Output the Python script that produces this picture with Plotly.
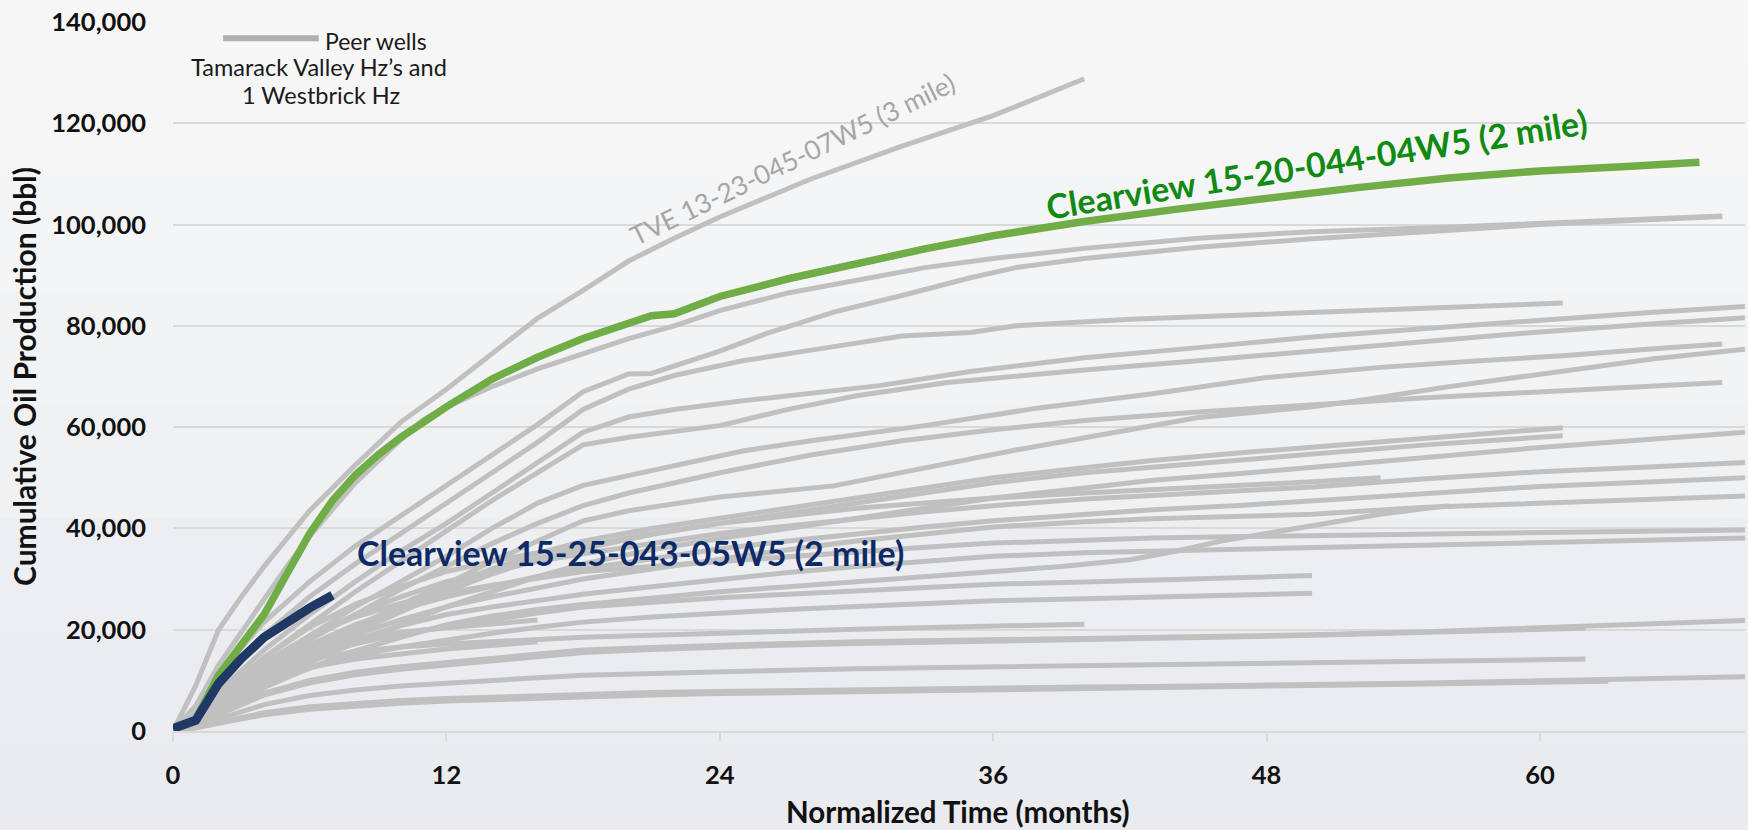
import plotly.graph_objects as go

# ---------------- data ----------------
tve_months = [0, 1, 2, 3, 4, 5, 6, 7, 8, 10, 12, 14, 16, 18, 20, 22, 24, 28, 32, 36, 40]
tve_values = [0, 9000, 20000, 26500, 32500, 38000, 43500, 48000, 52500, 61000, 67500, 74500,
              81500, 87000, 92800, 97300, 101500, 109000, 115500, 121500, 128800]

green_months = [0, 1, 2, 3, 4, 5, 6, 7, 8, 9, 10, 11, 12, 14, 16, 18, 20, 21, 22, 24, 27, 30,
                33, 36, 40, 44, 48, 52, 56, 60, 64, 67]
green_values = [500, 2300, 11000, 17000, 23000, 31000, 39000, 45500, 50500, 54500, 58000, 61000,
                64000, 69500, 73800, 77500, 80500, 82000, 82400, 85800, 89300, 92400, 95200,
                97800, 100600, 103000, 105200, 107300, 109200, 110600, 111500, 112300]

navy_months = [0, 1, 2, 3, 4, 5, 6, 7]
navy_values = [500, 2100, 9400, 14300, 18500, 21600, 24300, 26800]

m_a = [0, 1, 2, 3, 4, 5, 6, 8, 10, 11, 12, 14, 16, 18, 20, 22, 24, 27, 30, 33, 36, 40, 45, 50,
       55, 60, 65, 68]
v_a = [0, 5000, 13000, 19500, 26000, 32500, 38500, 49000, 57500, 61500, 64000, 68000, 71500,
       74500, 77500, 80000, 83000, 86500, 89000, 91500, 93300, 95300, 97300, 98600, 99300,
       100300, 101200, 101700]

m_b = [0, 1, 2, 3, 4, 6, 8, 10, 12, 14, 16, 18, 20, 21, 22, 24, 26, 29, 32, 35, 37, 40, 45, 50,
       55, 60, 65, 68]
v_b = [0, 4500, 11000, 16500, 21500, 29500, 36500, 42500, 48500, 54500, 60500, 67000, 70500,
       70600, 72000, 75000, 78400, 82700, 86000, 89500, 91500, 93300, 95500, 97200, 98600,
       100000, 101000, 101600]

m_c = [0, 1, 2, 3, 4, 6, 8, 10, 12, 14, 16, 18, 20, 22, 25, 29, 32, 35, 37, 42, 48, 54, 61]
v_c = [0, 4000, 9500, 14500, 19000, 26500, 33000, 39000, 45000, 51000, 57000, 63500, 67500,
       70200, 73100, 75900, 78000, 78700, 80000, 81300, 82300, 83500, 84500]

m_d = [0, 1, 2, 3, 4, 6, 8, 10, 12, 14, 16, 18, 20, 22, 25, 28, 31, 35, 40, 45, 50, 55, 60, 65, 69]
v_d = [0, 3300, 7800, 12000, 16000, 23000, 29500, 35500, 41000, 47000, 53000, 59000, 62000,
       63500, 65200, 66700, 68200, 71000, 73700, 75700, 77800, 79500, 81200, 82700, 83800]

m_e = [0, 1, 2, 3, 4, 6, 8, 10, 12, 14, 16, 18, 20, 24, 27, 30, 34, 40, 45, 50, 55, 60, 65, 69]
v_e = [0, 3000, 7000, 10800, 14500, 21000, 27500, 33500, 39500, 45500, 51000, 56500, 58000,
       60300, 63500, 66200, 68800, 71300, 73100, 75000, 77000, 78800, 80400, 81600]

m_f = [0, 1, 2, 3, 4, 6, 8, 10, 12, 14, 16, 18, 20, 22, 25, 28, 33, 38, 43, 48, 53, 57, 61, 65, 68]
v_f = [0, 2800, 6300, 9500, 12800, 18800, 24500, 29500, 34500, 40000, 45000, 48500, 50500,
       52500, 55300, 57300, 60300, 63800, 66600, 69800, 71800, 73000, 74100, 75500, 76400]

m_g = [0, 1, 2, 3, 4, 6, 8, 10, 12, 14, 16, 18, 20, 24, 29, 33, 37, 41, 45, 50, 52, 56, 61, 65, 69]
v_g = [0, 2200, 5000, 7800, 10500, 15500, 20500, 25000, 29000, 33500, 37500, 41500, 43500,
       46200, 48400, 52000, 55500, 58700, 61900, 64000, 65200, 68000, 71100, 73500, 75400]

m_h = [0, 1, 2, 3, 4, 6, 8, 10, 12, 14, 16, 18, 20, 24, 28, 32, 36, 40, 45, 50, 55, 61, 65, 68]
v_h = [0, 2700, 6000, 9200, 12300, 18000, 23000, 28000, 32500, 37000, 41000, 44500, 47000,
       51000, 54500, 57300, 59500, 61300, 63000, 64500, 65800, 67200, 68100, 68800]

m_i = [0, 1, 2, 3, 4, 6, 8, 10, 12, 14, 16, 18, 21, 24, 27, 30, 33, 36, 40, 43, 47, 50, 55, 58, 61]
v_i = [0, 2200, 5000, 8000, 11000, 16000, 20500, 24500, 28500, 32000, 35000, 37500, 40000,
       42000, 44000, 46000, 48000, 50000, 52000, 53400, 55000, 56000, 57800, 58800, 59900]
v_j = [0, 2000, 4800, 7600, 10500, 15200, 19500, 23500, 27500, 31000, 34000, 36000, 38800,
       41000, 43000, 45000, 47000, 49000, 51000, 52100, 53600, 54800, 56500, 57400, 58300]

m_long = [0, 1, 2, 3, 4, 6, 8, 10, 12, 14, 16, 18, 21, 24, 27, 30, 33, 36, 40, 43, 47, 50, 55,
          60, 65, 69]
v_k = [0, 1800, 4200, 6800, 9300, 13500, 17500, 21000, 24500, 27500, 30500, 33000, 35800, 38000,
       40000, 42000, 44000, 46000, 48000, 49500, 50900, 52000, 54000, 56000, 57700, 59000]
v_l = [0, 2500, 6000, 9500, 13000, 18500, 23000, 26500, 29500, 31500, 33500, 35000, 37000, 39000,
       40500, 42000, 43300, 44500, 45800, 46500, 47400, 48200, 49800, 51200, 52200, 53000]
v_m = [0, 2200, 5500, 8800, 12000, 17000, 21000, 24000, 26500, 28500, 30500, 32000, 34000, 36000,
       37500, 39000, 40300, 41500, 42800, 43700, 44600, 45500, 47000, 48300, 49200, 50000]
v_n = [0, 2000, 5000, 8000, 11000, 15500, 19000, 22000, 24500, 26500, 28300, 30000, 32000, 34000,
       35800, 37500, 39000, 40300, 41300, 41900, 42400, 42800, 44200, 45000, 45700, 46400]
v_q = [0, 2600, 6300, 10000, 13500, 18800, 22500, 25200, 27200, 28800, 30200, 31500, 32500, 33500,
       34500, 35500, 36300, 37100, 37700, 38100, 38400, 38600, 38900, 39200, 39500, 39700]
v_r = [0, 1900, 4600, 7400, 10200, 14500, 18000, 20800, 23000, 24500, 25800, 27000, 28500, 30000,
       31300, 32500, 33600, 34500, 35200, 35500, 35800, 36000, 36500, 37000, 37600, 38100]
v_u = [0, 1400, 3400, 5500, 7500, 10000, 11600, 12700, 13500, 14300, 15200, 16000, 16500, 17000,
       17300, 17600, 17800, 18000, 18300, 18500, 18800, 19000, 19600, 20300, 21000, 21800]
v_y = [0, 700, 1700, 2700, 3600, 4800, 5500, 6000, 6400, 6700, 7000, 7300, 7600, 7800, 8000,
       8200, 8400, 8500, 8700, 8800, 9000, 9100, 9500, 9900, 10300, 10700]

m_p = [0, 1, 2, 3, 4, 6, 8, 10, 12, 14, 16, 18, 21, 24, 27, 30, 33, 36, 40, 43, 47, 50, 53]
v_p = [0, 2800, 6500, 10500, 14500, 20500, 25000, 28500, 31500, 33500, 35200, 36500, 39000,
       41000, 42500, 44000, 45000, 46000, 47000, 47600, 48500, 49200, 50000]

m_o = [0, 1, 2, 3, 4, 6, 8, 10, 12, 14, 16, 18, 21, 24, 27, 30, 33, 36, 39, 42, 44, 46, 48, 50,
       53, 56]
v_o = [0, 1500, 3800, 6200, 8600, 12500, 15800, 18500, 21000, 22700, 24000, 25000, 26300, 27500,
       28500, 29500, 30500, 31400, 32500, 33800, 35500, 37500, 39000, 40500, 42800, 44500]

m_s = [0, 1, 2, 3, 4, 6, 8, 10, 12, 14, 16, 18, 21, 24, 27, 30, 33, 36, 40, 43, 47, 50]
v_s = [0, 2000, 4800, 7800, 10500, 14500, 17200, 19200, 20500, 22000, 23300, 24500, 25500,
       26300, 27000, 27700, 28400, 29000, 29400, 29800, 30300, 30700]
v_t = [0, 1700, 4100, 6600, 9000, 12400, 14800, 16600, 18000, 19300, 20500, 21500, 22500, 23300,
       24000, 24600, 25200, 25700, 26100, 26400, 26800, 27200]

m_v = [0, 1, 2, 3, 4, 6, 8, 10, 12, 14, 16, 18, 21, 24, 27, 30, 33, 36, 40, 43, 47, 50, 55, 59, 62]
v_v = [0, 1300, 3200, 5200, 7100, 9500, 11100, 12200, 13000, 13900, 14700, 15500, 16100, 16600,
       17000, 17300, 17500, 17800, 18100, 18300, 18600, 18900, 19400, 19900, 20300]
v_x = [0, 1000, 2400, 3900, 5200, 7000, 8100, 8900, 9500, 10000, 10500, 11000, 11400, 11800,
       12000, 12300, 12500, 12700, 12900, 13100, 13300, 13500, 13800, 14000, 14200]

m_w = [0, 1, 2, 3, 4, 6, 8, 10, 12, 14, 16, 18, 21, 24, 27, 30, 33, 36, 40]
v_w = [0, 2400, 5800, 8800, 11300, 14200, 15700, 16600, 17200, 17700, 18100, 18500, 18900, 19400,
       19700, 20100, 20400, 20700, 21100]

m_z = [0, 1, 2, 3, 4, 6, 8, 10, 12, 14, 16, 18, 21, 24, 27, 30, 33, 36, 40, 43, 47, 50, 55, 60, 63]
v_z = [0, 600, 1500, 2400, 3200, 4300, 5000, 5500, 5900, 6200, 6500, 6800, 7100, 7400, 7600,
       7800, 8000, 8300, 8500, 8700, 8900, 9000, 9300, 9600, 9800]

m_short = [0, 1, 2, 3, 4, 6, 8, 10, 12, 14, 16]
v_aa = [0, 3000, 7200, 10800, 13500, 16500, 18300, 19500, 20400, 21200, 21900]
v_ab = [0, 2000, 5000, 7800, 10000, 12600, 14200, 15300, 16200, 16900, 17600]

peer_wells = [
    (m_a, v_a), (m_b, v_b), (m_c, v_c), (m_d, v_d), (m_e, v_e), (m_f, v_f), (m_g, v_g),
    (m_h, v_h), (m_i, v_i), (m_i, v_j), (m_long, v_k), (m_long, v_l), (m_long, v_m),
    (m_long, v_n), (m_p, v_p), (m_o, v_o), (m_long, v_q), (m_long, v_r), (m_s, v_s),
    (m_s, v_t), (m_long, v_u), (m_v, v_v), (m_w, v_w), (m_v, v_x), (m_long, v_y),
    (m_z, v_z), (m_short, v_aa), (m_short, v_ab),
]

x_ticks = [0, 12, 24, 36, 48, 60]
y_ticks = [0, 20000, 40000, 60000, 80000, 100000, 120000, 140000]
y_tick_labels = ["0", "20,000", "40,000", "60,000", "80,000", "100,000", "120,000", "140,000"]

# ---------------- figure ----------------
GREY = "#c0c0c0"
FONT = "Lato"

fig = go.Figure()
for mm, vv in peer_wells:
    fig.add_trace(go.Scatter(x=mm, y=vv, mode="lines",
                             line=dict(color=GREY, width=5), hoverinfo="skip",
                             showlegend=False))
fig.add_trace(go.Scatter(x=tve_months, y=tve_values, mode="lines",
                         line=dict(color=GREY, width=5), showlegend=False))
fig.add_trace(go.Scatter(x=green_months, y=green_values, mode="lines",
                         line=dict(color="#70ad47", width=7.5), showlegend=False))
fig.add_trace(go.Scatter(x=navy_months, y=navy_values, mode="lines",
                         line=dict(color="#1f3864", width=9), showlegend=False))

# background bands (light, photo-like fade)
bands = ["#f7f7f7", "#f6f6f7", "#f4f5f6", "#f2f3f4", "#eff1f3", "#eceef1", "#eaecef", "#e9ebee"]
shapes = []
for i, c in enumerate(bands):
    shapes.append(dict(type="rect", xref="paper", yref="paper",
                       x0=-0.2, x1=1.05, y0=1.1 - (i + 1) * 0.16, y1=1.1 - i * 0.16,
                       fillcolor=c, line=dict(width=0), layer="below"))
# legend sample line
shapes.append(dict(type="line", xref="x", yref="y", x0=2.2, x1=6.4, y0=136800, y1=136800,
                   line=dict(color="#b0b0b0", width=6), layer="above"))

annotations = [
    dict(text="Peer wells", x=6.6, y=136300, xref="x", yref="y", showarrow=False,
         xanchor="left", yanchor="middle", font=dict(family=FONT, size=23, color="#1a1a1a")),
    dict(text="Tamarack Valley Hz’s and", x=6.43, y=131100, xref="x", yref="y",
         showarrow=False, xanchor="center", yanchor="middle",
         font=dict(family=FONT, size=23.5, color="#1a1a1a")),
    dict(text="1 Westbrick Hz", x=6.5, y=125600, xref="x", yref="y", showarrow=False,
         xanchor="center", yanchor="middle", font=dict(family=FONT, size=23.5, color="#1a1a1a")),
    dict(text="TVE 13-23-045-07W5 (3 mile)", x=27.2, y=112900, xref="x", yref="y",
         showarrow=False, textangle=-26, xanchor="center", yanchor="middle",
         font=dict(family=FONT, size=26.5, color="#a6a6a6")),
    dict(text="<b>Clearview 15-20-044-04W5 (2 mile)</b>", x=50.2, y=112100, xref="x", yref="y",
         showarrow=False, textangle=-9, xanchor="center", yanchor="middle",
         font=dict(family=FONT, size=34, color="#108a10")),
    dict(text="<b>Clearview 15-25-043-05W5 (2 mile)</b>", x=20.1, y=35300, xref="x", yref="y",
         showarrow=False, xanchor="center", yanchor="middle",
         font=dict(family=FONT, size=34, color="#0d2a66")),
    dict(text="<b>Normalized Time (months)</b>", x=34.46, y=-0.1135, xref="x", yref="paper",
         showarrow=False, xanchor="center", yanchor="middle",
         font=dict(family=FONT, size=29.5, color="#111111")),
    dict(text="<b>Cumulative Oil Production (bbl)</b>", x=-0.0948, y=0.5007, xref="paper",
         yref="paper", showarrow=False, textangle=-90, xanchor="center", yanchor="middle",
         font=dict(family=FONT, size=30, color="#111111")),
]

fig.update_layout(
    width=1748, height=830,
    margin=dict(l=173, r=3, t=22, b=99),
    paper_bgcolor="#f2f3f4", plot_bgcolor="rgba(0,0,0,0)",
    shapes=shapes, annotations=annotations, showlegend=False,
    font=dict(family=FONT),
)
fig.update_xaxes(range=[0, 69], tickvals=x_ticks, showgrid=False, zeroline=False,
                 showline=True, linecolor="#d9d9d9", linewidth=2,
                 ticks="outside", ticklen=8, tickcolor="#d9d9d9", tickwidth=1.5,
                 tickfont=dict(family=FONT, size=25.5, color="#111111", weight="bold"),
                 ticklabelstandoff=12)
fig.update_yaxes(range=[0, 140000], tickvals=y_ticks, ticktext=y_tick_labels,
                 showgrid=True, gridcolor="#d9d9d9", gridwidth=2, zeroline=False,
                 showline=False, ticks="",
                 tickfont=dict(family=FONT, size=25.5, color="#111111", weight="bold"),
                 ticklabelstandoff=26)

fig.write_html(
    "out.html",
    config={"displayModeBar": False},
    post_script="document.body.style.margin='0';document.body.style.overflow='hidden';",
)
